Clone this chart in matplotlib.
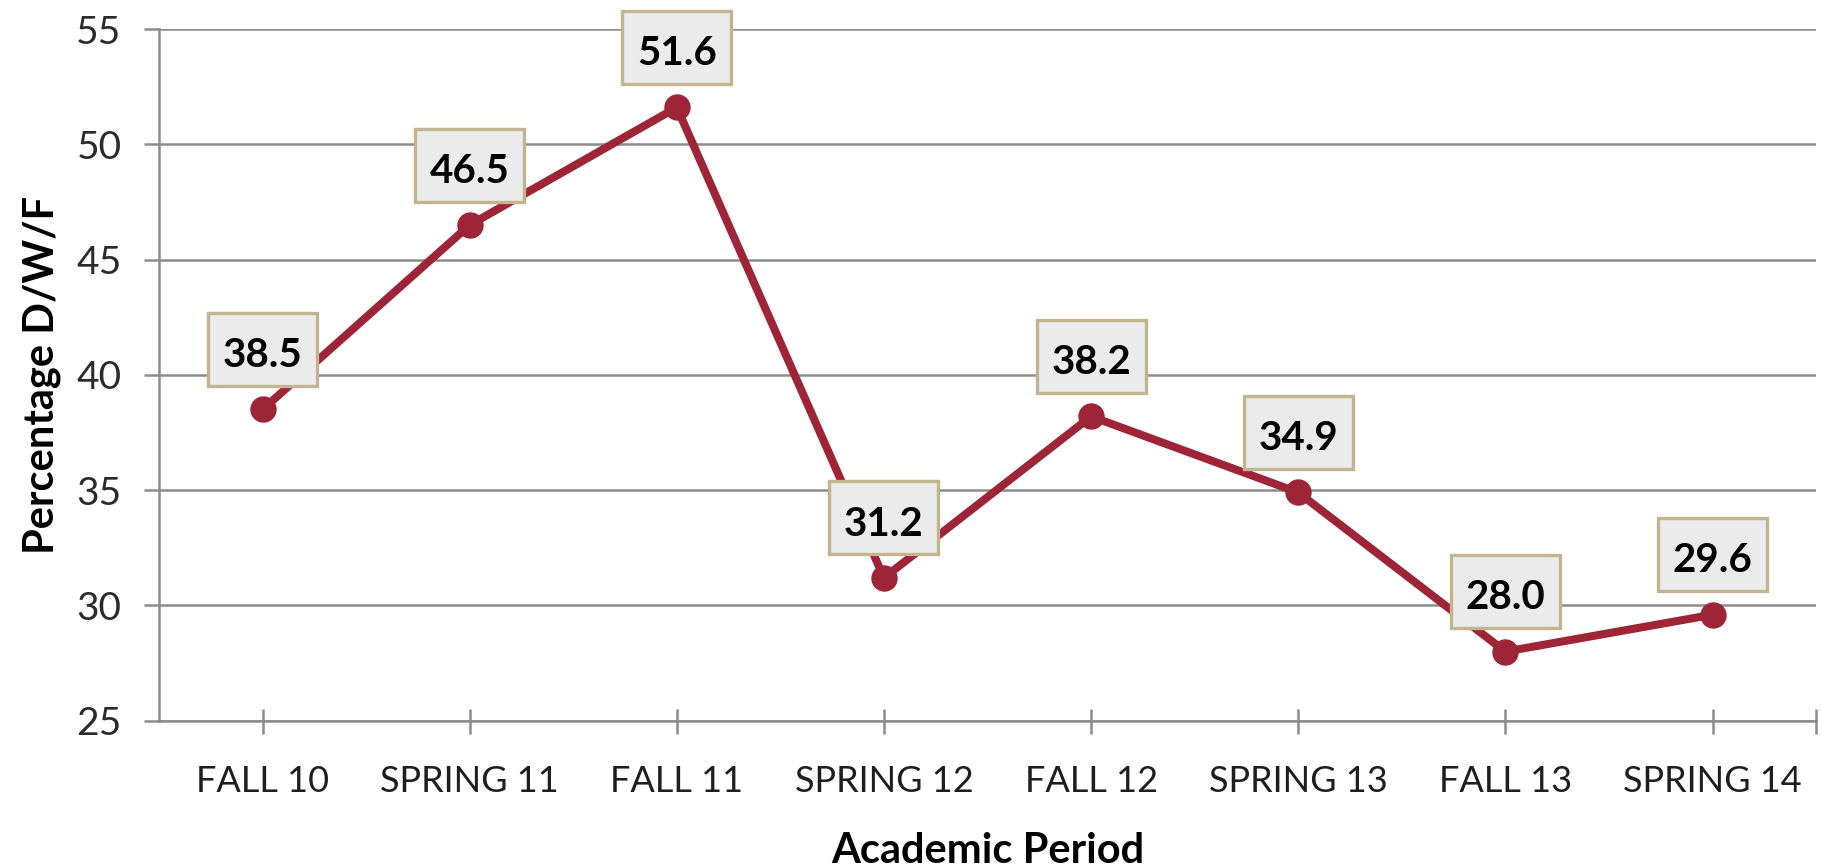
import matplotlib
matplotlib.use("Agg")
import matplotlib.pyplot as plt
from matplotlib.patches import Rectangle
from matplotlib.transforms import ScaledTranslation

periods = ["FALL 10", "SPRING 11", "FALL 11", "SPRING 12", "FALL 12", "SPRING 13", "FALL 13", "SPRING 14"]
dwf_pct = [38.5, 46.5, 51.6, 31.2, 38.2, 34.9, 28.0, 29.6]
y_ticks = [25, 30, 35, 40, 45, 50, 55]

plt.rcParams['font.family'] = ['Lato', 'DejaVu Sans']

fig = plt.figure(figsize=(18.23, 8.66), dpi=100)
ax = fig.add_axes([0.0872, 0.1677, 0.909, 0.7988])

grid_c = '#8c8c8c'
line_c = '#9e2437'

x = list(range(len(periods)))
ax.plot(x, dwf_pct, color=line_c, lw=5.8, marker='o', ms=18, zorder=3, solid_capstyle='round')

# label boxes (sizes in inches, anchored on each data point)
box_w, box_h, box_dy = 1.09, 0.73, 0.60
for xi, v in zip(x, dwf_pct):
    tr = fig.dpi_scale_trans + ScaledTranslation(xi, v, ax.transData)
    ax.add_patch(Rectangle((-box_w / 2, box_dy - box_h / 2), box_w, box_h, transform=tr,
                           fc='#ebebeb', ec='#c2b48e', lw=2.4, zorder=4, clip_on=False))
    ax.annotate(f"{v:.1f}", (xi, v), xytext=(0, box_dy * 72 - 2), textcoords='offset points',
                ha='center', va='center_baseline', fontsize=29, fontweight='bold', color='black',
                zorder=5)

ax.set_xlim(-0.5, 7.5)
ax.set_ylim(25, 55)
ax.set_yticks(y_ticks)
ax.set_xticks(x)
ax.set_xticklabels(periods)
ax.set_xticks([7.5], minor=True)
ax.yaxis.grid(True, color=grid_c, lw=1.8)
ax.set_axisbelow(True)

for s in ['top', 'right']:
    ax.spines[s].set_visible(False)
for s in ['left', 'bottom']:
    ax.spines[s].set_color(grid_c)
    ax.spines[s].set_linewidth(1.8)

ax.tick_params(axis='y', direction='out', length=11, width=1.8, color=grid_c,
               labelsize=28, labelcolor='#2b2b2b', pad=16)
ax.tick_params(axis='x', which='both', direction='inout', length=18, width=1.8, color=grid_c,
               labelsize=26, labelcolor='#1e1e1e', pad=23)

ax.set_xlabel("Academic Period", fontsize=30, fontweight='bold', labelpad=24)
ax.set_ylabel("Percentage D/W/F", fontsize=30, fontweight='bold', labelpad=11)

fig.savefig("out.png", dpi=100)
